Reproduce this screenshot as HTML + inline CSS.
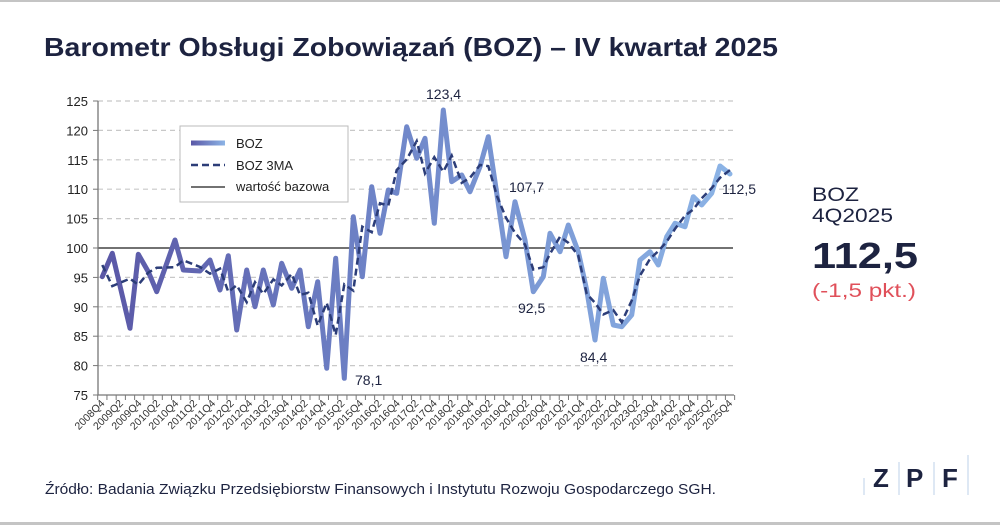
<!DOCTYPE html>
<html><head><meta charset="utf-8"><style>
body{margin:0;width:1000px;height:525px;background:#fff;overflow:hidden;font-family:"Liberation Sans",sans-serif}
</style></head><body>
<svg id="s" width="1000" height="525" xmlns="http://www.w3.org/2000/svg" font-family="Liberation Sans, sans-serif">
<rect x="0" y="0" width="1000" height="2" fill="#c4c4c4"/>
<rect x="0" y="522" width="1000" height="3" fill="#c4c4c4"/>
<text x="44" y="56" font-size="26" font-weight="bold" fill="#1d2340" textLength="734" lengthAdjust="spacingAndGlyphs">Barometr Obsługi Zobowiązań (BOZ) – IV kwartał 2025</text>
<defs>
<linearGradient id="g" gradientUnits="userSpaceOnUse" x1="100" y1="0" x2="730" y2="0">
<stop offset="0" stop-color="#5a57a6"/><stop offset="0.45" stop-color="#6f85c8"/><stop offset="1" stop-color="#8cb4e6"/>
</linearGradient>
<linearGradient id="lg" gradientUnits="userSpaceOnUse" x1="191" y1="0" x2="225" y2="0"><stop offset="0" stop-color="#5a57a6"/><stop offset="1" stop-color="#8cb4e6"/></linearGradient>
</defs>
<g id="grid"></g>
<line x1="98" y1="248" x2="733" y2="248" stroke="#444" stroke-width="1.5"/>
<line x1="98" y1="101" x2="98" y2="395" stroke="#777" stroke-width="1.3"/>
<line x1="98" y1="395" x2="734" y2="395" stroke="#777" stroke-width="1.3"/>
<g id="ticks"></g>
<polyline id="boz" fill="none" stroke="url(#g)" stroke-width="5" stroke-linejoin="round" stroke-linecap="round"/>
<polyline id="ma" fill="none" stroke="#2c3d78" stroke-width="2.5" stroke-dasharray="7,4"/>
<rect x="180" y="126" width="168" height="76" fill="#fff" stroke="#bbb" stroke-width="1"/>
<rect x="191" y="140.5" width="34" height="5" fill="url(#lg)"/>
<line x1="191" y1="165" x2="225" y2="165" stroke="#2c3d78" stroke-width="2.5" stroke-dasharray="7,4"/>
<line x1="191" y1="187" x2="225" y2="187" stroke="#444" stroke-width="1.5"/>
<text x="236" y="148" font-size="13" fill="#222">BOZ</text>
<text x="236" y="170" font-size="13" fill="#222">BOZ 3MA</text>
<text x="236" y="191" font-size="13" fill="#222">wartość bazowa</text>
<g font-size="14" fill="#1d2340">
<text x="426" y="99">123,4</text>
<text x="355" y="385">78,1</text>
<text x="509" y="192">107,7</text>
<text x="518" y="313">92,5</text>
<text x="580" y="362">84,4</text>
<text x="722" y="194">112,5</text>
</g>
<text x="812" y="201" font-size="19" fill="#1d2340" textLength="47" lengthAdjust="spacingAndGlyphs">BOZ</text>
<text x="812" y="222" font-size="19" fill="#1d2340" textLength="81" lengthAdjust="spacingAndGlyphs">4Q2025</text>
<text x="812" y="268" font-size="36" font-weight="bold" fill="#1d2340" textLength="106" lengthAdjust="spacingAndGlyphs">112,5</text>
<text x="812" y="297" font-size="19" fill="#e0505a" textLength="104" lengthAdjust="spacingAndGlyphs">(-1,5 pkt.)</text>
<text x="45" y="494" font-size="14.5" fill="#1d2340" textLength="671" lengthAdjust="spacingAndGlyphs">Źródło: Badania Związku Przedsiębiorstw Finansowych i Instytutu Rozwoju Gospodarczego SGH.</text>
<g font-size="26" font-weight="bold" fill="#1d2340">
<text x="873" y="487">Z</text><text x="906" y="487">P</text><text x="942" y="487">F</text>
</g>
<g stroke="#bcd0ea" stroke-width="1"><line x1="864" y1="478" x2="864" y2="495"/><line x1="899" y1="462" x2="899" y2="495"/><line x1="934" y1="462" x2="934" y2="495"/><line x1="968" y1="455" x2="968" y2="495"/></g>
</svg>
<script>
var ns="http://www.w3.org/2000/svg",s=document.getElementById('s');
function el(t,a,p){var e=document.createElementNS(ns,t);for(var k in a)e.setAttribute(k,a[k]);(p||s).appendChild(e);return e;}
var grid=document.getElementById('grid'),ticks=document.getElementById('ticks');
for(var v=75;v<=125;v+=5){var y=395-(v-75)*5.88;
 if(v!=75&&v!=100)el('line',{x1:98,y1:y,x2:735,y2:y,stroke:'#c8c8c8','stroke-width':1.2,'stroke-dasharray':'5,4'},grid);
 el('line',{x1:93,y1:y,x2:98,y2:y,stroke:'#777'},ticks);
 var t=el('text',{x:88,y:y+5,'font-size':13,fill:'#222','text-anchor':'end'},ticks);t.textContent=v;}
var x0=102.3,st=(730-102.3)/68;
for(var i=0;i<=69;i++){var x=97.7+i*st;el('line',{x1:x,y1:395,x2:x,y2:400,stroke:'#777'},ticks);}
for(var i=0;i<35;i++){var q=i*2,yr=2008+Math.floor((q+3)/4),qq=((q+3)%4)+1;var x=x0+q*st+3;
 var t=el('text',{x:x,y:404,'font-size':10.5,fill:'#333','text-anchor':'end',transform:'rotate(-45 '+x+' 404)'},ticks);t.textContent=yr+'Q'+qq;}
var P=[[102.3,276.7],[112.3,253.3],[130,328.3],[138.3,254.3],[148.3,271.7],[156.7,291.7],[175,240],[183.3,270],[200,271],[210,260],[220,290],[228.3,255.7],[236.7,330],[246.7,270],[255,306.7],[263.3,270],[273.3,305],[281.7,263.3],[291.7,288.3],[300,270],[308.3,326.7],[317.7,281.7],[326.7,368.3],[335.7,258.3],[344.3,378.3],[353.3,216.7],[362.3,276.7],[371.7,186.7],[380,233.3],[388.3,190],[396.7,193.3],[406.7,126.7],[416.7,158.3],[425,138.3],[434.3,223.3],[443.3,110],[451.7,181.7],[461.7,175],[470,191.7],[480,166.7],[488.3,136.7],[497,195],[506,256.7],[515,201.7],[525,240],[533.3,291.7],[543.3,276.7],[550,233.3],[560,251.7],[568.3,225],[578.3,251.7],[586.7,290],[595,340],[603.3,278.3],[613.3,325],[621.7,326.7],[631.7,315],[640,260],[650,251.7],[658.3,265],[666.7,236.7],[675,223.3],[685,226.7],[693.3,196.7],[701.7,205],[711.7,193.3],[720,166],[730,174]];
document.getElementById('boz').setAttribute('points',P.map(function(p){return p.join(',')}).join(' '));
var M=[];for(var i=0;i<P.length;i++){var a=Math.max(0,i-1),b=Math.min(P.length-1,i+1),sum=0,n=0;for(var j=a;j<=b;j++){sum+=P[j][1];n++;}M.push(P[i][0]+','+(sum/n).toFixed(1));}
document.getElementById('ma').setAttribute('points',M.join(' '));
</script>
</body></html>
